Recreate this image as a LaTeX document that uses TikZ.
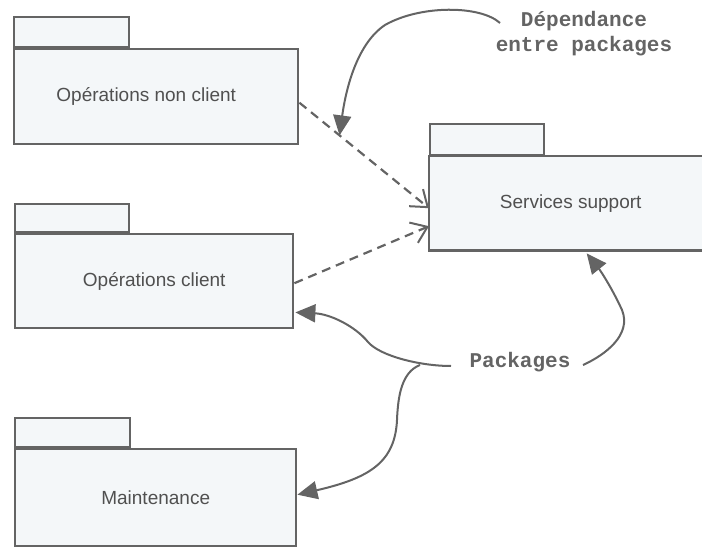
\documentclass[tikz,border=0pt]{standalone}
\usepackage{fontspec}
\setsansfont{Liberation Sans}
\setmonofont{Liberation Mono}
\usetikzlibrary{arrows.meta,calc}
\definecolor{linegray}{RGB}{100,100,100}
\definecolor{pkgfill}{RGB}{244,247,249}
\definecolor{txtgray}{RGB}{80,80,80}
\definecolor{notegray}{RGB}{100,100,100}
\tikzset{
  pkgbody/.style={draw=linegray, line width=2.4pt, fill=pkgfill, anchor=north west,
    inner sep=0pt, font=\sffamily\fontsize{19}{21}\selectfont, text=txtgray},
  pkgtab/.style={draw=linegray, line width=2.4pt, fill=pkgfill, anchor=south west,
    inner sep=0pt, minimum width=115pt},
  depend/.style={draw=linegray, line width=2.2pt, dash pattern=on 9pt off 6pt,
    -{Straight Barb[length=15pt,width=22pt,line width=2pt]}},
  note/.style={font=\ttfamily\bfseries\fontsize{21}{25}\selectfont, text=notegray, align=center},
  pointer/.style={draw=linegray, line width=2pt, -{Triangle[length=20pt,width=18pt]}},
}
\begin{document}
\begin{tikzpicture}[x=1pt,y=-1pt]
\useasboundingbox (0,0) rectangle (702,548);

% packages
\node[pkgbody, minimum width=284pt, minimum height=95pt] (p1) at (13,48) {Opérations non client\hspace*{20pt}};
\node[pkgtab, minimum height=30pt] (p1tab) at (p1.north west) {};

\node[pkgbody, minimum width=278pt, minimum height=94pt] (p3) at (14,233) {Opérations client};
\node[pkgtab, minimum height=28pt, minimum width=114pt] (p3tab) at (p3.north west) {};

\node[pkgbody, minimum width=281pt, minimum height=97pt] (maint) at (14,448) {Maintenance};
\node[pkgtab, minimum height=29pt] (mtab) at (maint.north west) {};

% services support runs past the right edge: no right-hand border
\node[pkgbody, draw=none, minimum width=273pt, minimum height=92pt] (serv) at (429,156) {\hspace*{8pt}Services support};
\draw[linegray, line width=2.4pt] (serv.north east) -- (serv.north west) -- (serv.south west) -- (serv.south east);
\node[pkgtab, minimum height=31pt, minimum width=114pt] (stab) at (serv.north west) {};

% dependencies
\draw[depend] ($(p1.east)+(0,6)$) -- coordinate[pos=0.31] (d1mid) ($(serv.west)+(0,5)$);
\draw[depend] ($(p3.east)+(0,2)$) -- ($(serv.west)+(0,23)$);

% notes
\node[note] (dep) at (584,34) {Dépendance\\entre packages};
\node[note] (pkgs) at (520,362) {Packages};

\coordinate (depstart) at (500,23);
\coordinate (pk1) at (451,366);
\coordinate (pk2) at (420,365);
\coordinate (pk3) at (583,365);

\draw[pointer] (depstart) .. controls (480,5) and (420,5) .. (385,25)
  .. controls (355,45) and (345,95) .. (d1mid);
\draw[pointer] (pk1) .. controls (420,366) and (380,356) .. (368,342)
  .. controls (355,326) and (330,314) .. ($(p3.south east)+(1,-17)$);
\draw[pointer] (pk2) .. controls (402,372) and (398,395) .. (397,420)
  .. controls (395,462) and (370,478) .. ($(maint.east)+(0,-3)$);
\draw[pointer] (pk3) .. controls (605,355) and (632,335) .. (622,310)
  .. controls (612,288) and (600,270) .. ($(serv.south)+(20,3)$);
\end{tikzpicture}
\end{document}
